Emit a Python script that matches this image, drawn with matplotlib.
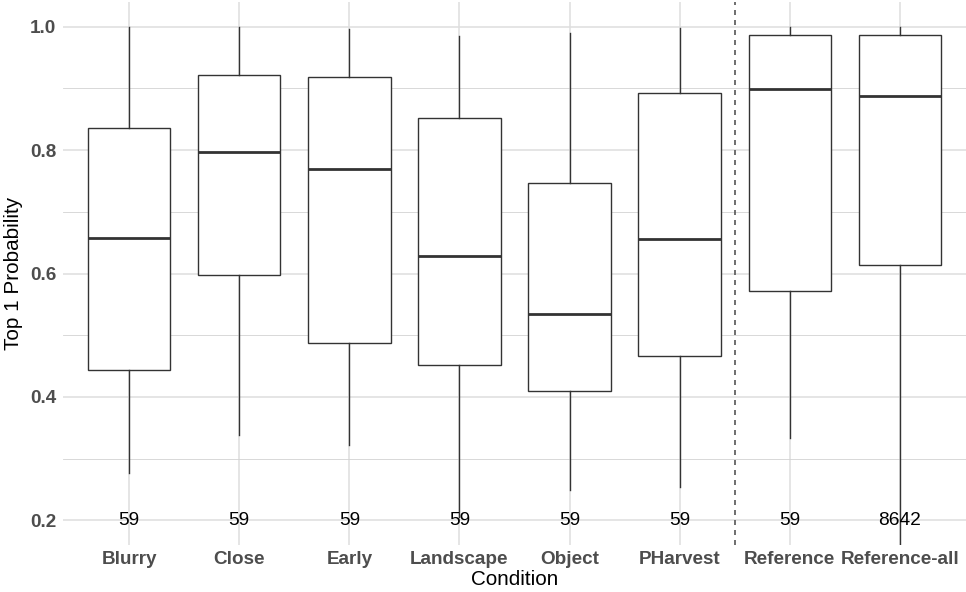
import matplotlib
matplotlib.use('Agg')
import matplotlib.pyplot as plt
from matplotlib.ticker import MultipleLocator

plt.rcParams['font.family'] = ['Liberation Sans', 'DejaVu Sans']

# condições e resumo dos boxplots (quartis e limites dos bigodes)
conditions = ['Blurry', 'Close', 'Early', 'Landscape', 'Object', 'PHarvest',
              'Reference', 'Reference-all']
whisk_low = [0.277, 0.339, 0.322, 0.205, 0.249, 0.254, 0.334, 0.05]
q1 = [0.443, 0.598, 0.487, 0.451, 0.409, 0.466, 0.571, 0.613]
medians = [0.658, 0.797, 0.770, 0.629, 0.534, 0.656, 0.899, 0.887]
q3 = [0.836, 0.921, 0.918, 0.852, 0.746, 0.893, 0.986, 0.986]
whisk_high = [1.0, 0.999, 0.997, 0.985, 0.989, 0.998, 1.0, 1.0]
counts = [59, 59, 59, 59, 59, 59, 59, 8642]

stats = []
for i, name in enumerate(conditions):
    stats.append({'label': name, 'whislo': whisk_low[i], 'q1': q1[i],
                  'med': medians[i], 'q3': q3[i], 'whishi': whisk_high[i],
                  'fliers': []})

fig = plt.figure(figsize=(9.66, 5.92), dpi=100)
ax = fig.add_axes([63 / 966, 47 / 592, 903 / 966, 543 / 592])

edge = '#333333'
positions = list(range(1, len(conditions) + 1))
ax.bxp(stats, positions=positions, widths=0.75, patch_artist=True,
       showcaps=False, showfliers=False,
       boxprops=dict(facecolor='white', edgecolor=edge, linewidth=1.0),
       medianprops=dict(color=edge, linewidth=2.0),
       whiskerprops=dict(color=edge, linewidth=1.0), zorder=3)

# linha separando as referências
ax.axvline(6.5, color='#555555', linestyle=(0, (3, 3)), linewidth=1.2, zorder=4)

# número de amostras de cada condição
for pos, n in zip(positions, counts):
    ax.text(pos, 0.2, str(n), ha='center', va='center', fontsize=13.8,
            color='black', zorder=5)

ax.set_xlim(0.4, len(conditions) + 0.6)
ax.set_ylim(0.16, 1.04)
ax.yaxis.set_major_locator(MultipleLocator(0.2))
ax.yaxis.set_minor_locator(MultipleLocator(0.1))
ax.set_yticks([0.2, 0.4, 0.6, 0.8, 1.0])
ax.set_yticklabels(['0.2', '0.4', '0.6', '0.8', '1.0'])
ax.set_xticks(positions)
ax.set_xticklabels(conditions)

ax.grid(which='major', color='#DEDEDE', linewidth=1.1, zorder=0)
ax.grid(which='minor', axis='y', color='#D2D2D2', linewidth=0.6, zorder=0)
ax.set_axisbelow(True)
for s in ax.spines.values():
    s.set_visible(False)
ax.tick_params(which='both', length=0)
ax.tick_params(axis='y', pad=5)
ax.tick_params(axis='x', pad=4)
for lab in ax.get_xticklabels() + ax.get_yticklabels():
    lab.set_fontweight('bold')
    lab.set_color('#4D4D4D')
    lab.set_fontsize(13.6)

ax.set_xlabel('Condition', fontsize=14.9, labelpad=2)
ax.set_ylabel('Top 1 Probability', fontsize=14.9, labelpad=5)

fig.savefig('out.png', dpi=100)
